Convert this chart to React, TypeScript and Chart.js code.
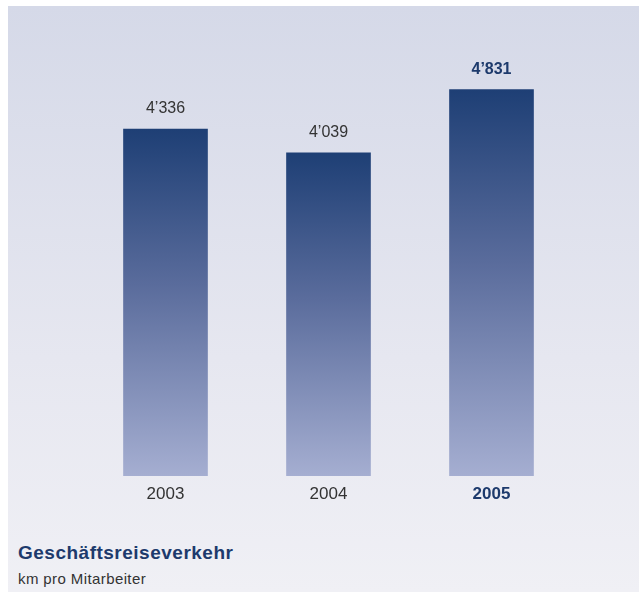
import React, { useEffect, useRef } from "react";
import { Chart, registerables } from "chart.js";

Chart.register(...registerables);

const categories = ["2003", "2004", "2005"];
const values = [4336, 4039, 4831];
const valueLabels = ["4’336", "4’039", "4’831"];
const highlighted = [false, false, true];

const NAVY = "#1d3a6c";
const GREY = "#333333";
const FONT = "'Liberation Sans', Arial, sans-serif";

const valueLabelPlugin = {
  id: "valueLabels",
  afterDatasetsDraw(chart: any) {
    const meta = chart.getDatasetMeta(0);
    const ctx = chart.ctx;
    ctx.save();
    ctx.textAlign = "center";
    ctx.textBaseline = "alphabetic";
    meta.data.forEach((bar: any, i: number) => {
      ctx.font = `${highlighted[i] ? "bold " : ""}16px ${FONT}`;
      ctx.fillStyle = highlighted[i] ? NAVY : GREY;
      ctx.fillText(valueLabels[i], bar.x, bar.y - 16);
    });
    ctx.restore();
  },
};

export default function App() {
  const ref = useRef<HTMLCanvasElement>(null);
  useEffect(() => {
    if (!ref.current) return;
    const chart = new Chart(ref.current, {
      type: "bar",
      data: {
        labels: categories,
        datasets: [
          {
            data: values,
            barThickness: 84,
            borderWidth: 0,
            backgroundColor: (c: any) => {
              const ch = c.chart;
              const ys = ch.scales && ch.scales.y;
              const v = values[c.dataIndex];
              if (!ys || v == null) return "#5a6c9c";
              const top = ys.getPixelForValue(v);
              const bottom = ys.getPixelForValue(0);
              if (!Number.isFinite(top) || !Number.isFinite(bottom) || top === bottom) return "#5a6c9c";
              const g = ch.ctx.createLinearGradient(0, top, 0, bottom);
              g.addColorStop(0, "#1e3f75");
              g.addColorStop(0.45, "#5a6c9c");
              g.addColorStop(1, "#a5aed1");
              return g;
            },
          },
        ],
      },
      options: {
        animation: false,
        responsive: false,
        maintainAspectRatio: false,
        layout: { padding: { top: 30, left: 76, right: 66, bottom: 10 } },
        plugins: {
          legend: { display: false },
          tooltip: { enabled: false },
          title: { display: false },
        },
        scales: {
          x: {
            grid: { display: false, drawTicks: false },
            border: { display: false },
            ticks: {
              padding: 8,
              font: (c: any) => ({
                family: FONT,
                size: 17,
                weight: highlighted[c.index] ? "bold" : "normal",
              }),
              color: (c: any) => (highlighted[c.index] ? NAVY : GREY),
            },
            afterFit: (s: any) => {
              s.height = 40;
            },
          },
          y: {
            display: false,
            min: 0,
            max: 5500,
          },
        },
      },
      plugins: [valueLabelPlugin],
    });
    return () => chart.destroy();
  }, []);

  return (
    <div
      style={{
        position: "absolute",
        left: 8,
        top: 6,
        width: 631,
        height: 586,
        background: "linear-gradient(to bottom, #d5d9e8 0%, #e6e7f0 60%, #f0f0f5 100%)",
        fontFamily: FONT,
      }}
    >
      <canvas ref={ref} width={631} height={520} style={{ display: "block" }} />
      <div
        style={{
          position: "absolute",
          left: 10,
          top: 536,
          fontSize: 19,
          fontWeight: "bold",
          color: NAVY,
          lineHeight: "21px",
          letterSpacing: "0.5px",
        }}
      >
        Geschäftsreiseverkehr
      </div>
      <div
        style={{
          position: "absolute",
          left: 10,
          top: 564,
          fontSize: 15,
          color: GREY,
          lineHeight: "18px",
          letterSpacing: "0.4px",
        }}
      >
        km pro Mitarbeiter
      </div>
    </div>
  );
}
